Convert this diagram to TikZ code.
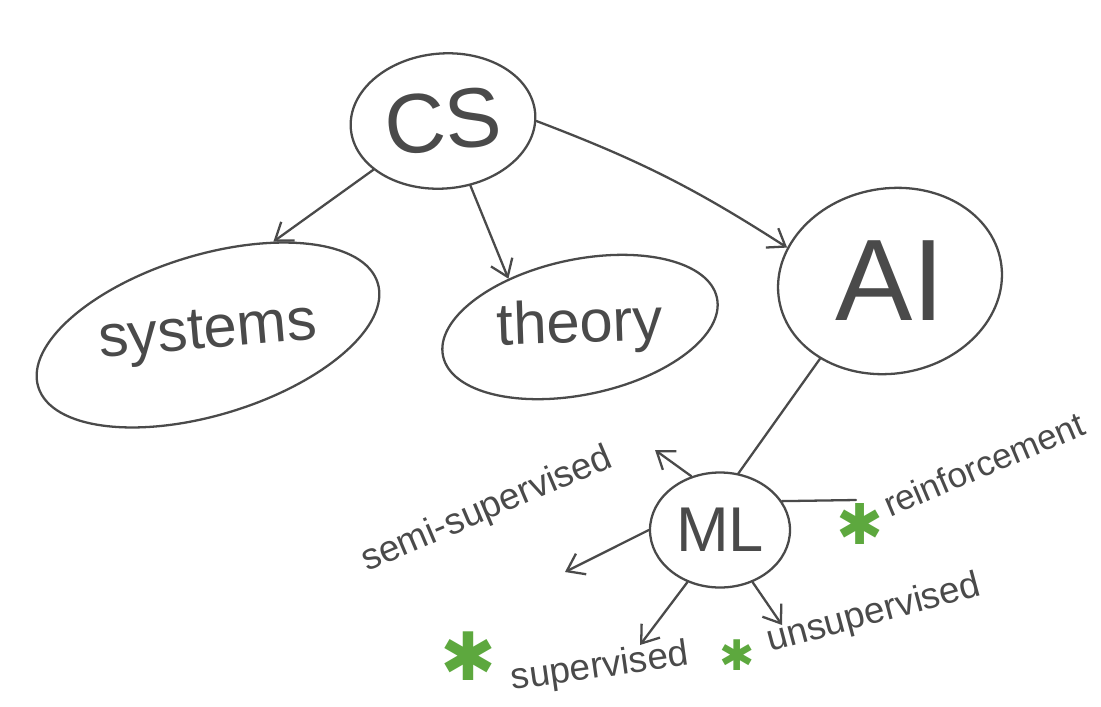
\documentclass[tikz,border=0pt]{standalone}
\usepackage{fontspec}
\setmainfont{Liberation Sans}
\newfontfamily\symfont{DejaVu Sans}
\usepackage{tikz}
\usetikzlibrary{arrows.meta,shapes.geometric}
\definecolor{pencil}{HTML}{4A4A4A}
\definecolor{leaf}{HTML}{5DA83E}
\tikzset{
  >={Straight Barb[length=3.2mm,width=4.6mm]},
  every node/.style={text=pencil},
  blob/.style={ellipse,draw=pencil,line width=1.3pt,inner sep=0pt},
  stroke/.style={draw=pencil,line width=1.3pt,line cap=round,line join=round},
  arrow/.style={stroke,->},
  tag/.style={font=\fontsize{21}{22}\selectfont,inner sep=1pt},
  star/.style={text=leaf,font=\symfont\bfseries,inner sep=0pt}
}

\begin{document}
\begin{tikzpicture}[x=0.2mm,y=-0.2mm]
  \useasboundingbox (0,0) rectangle (1101,706);
  % topic bubbles
  \node[blob,minimum width=37mm,minimum height=27mm,rotate=5,font=\fontsize{48}{48}\selectfont] (CS) at (443,121) {CS};
  \node[blob,minimum width=71mm,minimum height=32mm,rotate=17,font=\fontsize{34}{34}\selectfont] (systems) at (208,335) {\rotatebox{-12}{systems}};
  \node[blob,minimum width=56mm,minimum height=27mm,rotate=12,font=\fontsize{34}{34}\selectfont] (theory) at (580,327) {\rotatebox{-10}{theory}};
  \node[blob,minimum width=45mm,minimum height=37mm,rotate=10,font=\fontsize{66}{66}\selectfont] (AI) at (890,281) {\rotatebox{-10}{AI}};
  \node[blob,minimum width=28mm,minimum height=23mm,font=\fontsize{36}{36}\selectfont] (ML) at (720,530) {ML};
  % kinds of learning
  \node[tag,rotate=23] (semi) at (487,510) {semi-supervised};
  \node[tag,rotate=23,font=\fontsize{20}{21}\selectfont] (reinf) at (984,464) {reinforcement};
  \node[tag,rotate=8] (sup) at (600,668) {supervised};
  \node[tag,rotate=15] (unsup) at (874,614) {unsupervised};
  \node[star,font=\symfont\fontsize{32}{32}\selectfont] (starreinf) at (860,524) {✱};
  \node[star,font=\symfont\fontsize{38}{38}\selectfont] (starsup) at (468,656) {✱};
  \node[star,font=\symfont\fontsize{24}{24}\selectfont] (starunsup) at (737,655) {✱};
  \coordinate (semitip) at (655,450);
  \coordinate (lefttip) at (565,572);
  \coordinate (reinftip) at (856,500);
  \coordinate (suptip) at (640,645);
  \coordinate (unsuptip) at (782,625);
  % links
  \draw[arrow] (CS.210) -- (systems.38);
  \draw[arrow] (CS.-72) -- (theory.134);
  \draw[arrow] (CS.-5) to[bend left=6] (AI.152);
  \draw[stroke] (AI.218) -- (ML.72);
  \draw[arrow] (ML.118) -- (semitip);
  \draw[arrow] (ML.180) -- (lefttip);
  \draw[stroke] (ML.25) -- (reinftip);
  \draw[arrow] (ML.238) -- (suptip);
  \draw[arrow] (ML.-58) -- (unsuptip);
\end{tikzpicture}
\end{document}
